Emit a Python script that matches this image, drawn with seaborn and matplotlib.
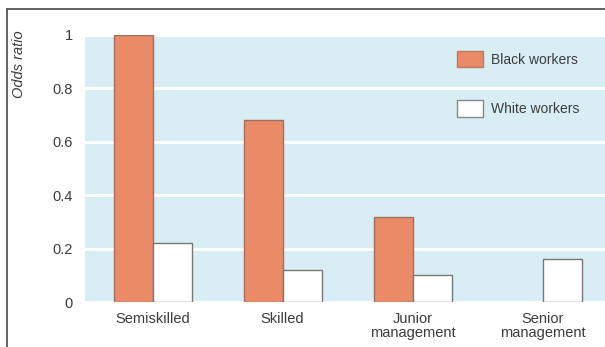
import matplotlib
matplotlib.use("Agg")
import matplotlib.pyplot as plt
from matplotlib.lines import Line2D
from matplotlib.patches import Patch
import numpy as np
import pandas as pd
import seaborn as sns

categories = ["Semiskilled", "Skilled", "Junior\nmanagement", "Senior\nmanagement"]
black_workers = [1.0, 0.68, 0.32, np.nan]
white_workers = [0.22, 0.12, 0.10, 0.16]
series_names = ["Black workers", "White workers"]
y_ticks = [0, 0.2, 0.4, 0.6, 0.8, 1]
y_tick_labels = ["0", "0.2", "0.4", "0.6", "0.8", "1"]

df = pd.DataFrame({
    "category": categories * 2,
    "odds": black_workers + white_workers,
    "group": [series_names[0]] * len(categories) + [series_names[1]] * len(categories),
})

sns.set_style("white")
plt.rcParams["font.family"] = ["Liberation Sans", "DejaVu Sans"]

orange = "#EA8A66"
bg = "#D8EDF4"
text_col = "#3C3C3C"

fig = plt.figure(figsize=(6.05, 3.47), dpi=100)
ax = fig.add_axes([85 / 605, 1 - 302 / 347, 1 - 85 / 605, (302 - 35) / 347])
ax.set_facecolor(bg)

sns.barplot(data=df, x="category", y="odds", hue="group", order=categories,
            hue_order=series_names, palette=[orange, "white"], width=0.6,
            saturation=1, errorbar=None, ax=ax, legend=False, zorder=3)

edge_cols = ["#A0705C", "#777777"]
for cont, ec in zip(ax.containers, edge_cols):
    for bar in cont:
        bar.set_edgecolor(ec)
        bar.set_linewidth(1.0)

ax.set_ylim(0, 1.0)
ax.set_xlim(-0.52, 3.48)
ax.set_yticks(y_ticks)
ax.set_yticklabels(y_tick_labels)
ax.yaxis.grid(True, color="white", linewidth=2.2, zorder=0)
ax.set_axisbelow(True)
for s in ax.spines.values():
    s.set_visible(False)
ax.tick_params(axis="both", length=0, labelsize=10.5, colors=text_col)
ax.tick_params(axis="y", pad=9)
ax.tick_params(axis="x", pad=7)
for lbl in ax.get_xticklabels():
    lbl.set_linespacing(1.0)
ax.set_xlabel("")
ax.set_ylabel("")

handles = [Patch(facecolor=orange, edgecolor="#C07A60", linewidth=1.0),
           Patch(facecolor="white", edgecolor="#888888", linewidth=1.0)]
leg = ax.legend(handles, series_names, loc="upper left",
                bbox_to_anchor=((457 - 85) / 520, 1 - (51 - 35) / 267),
                frameon=False, fontsize=10, handlelength=1.85, handleheight=1.45,
                labelspacing=2.35, handletextpad=0.6, borderpad=0, borderaxespad=0)
for t in leg.get_texts():
    t.set_color(text_col)

fig.text(19 / 605, 1 - 64 / 347, "Odds ratio", rotation=90, ha="center", va="center",
         style="italic", fontsize=10.5, color=text_col)

# frame lines along the top and left edges
fig.add_artist(Line2D([7 / 605, 1], [1 - 9 / 347, 1 - 9 / 347], color="#555555",
                      linewidth=1.3, transform=fig.transFigure))
fig.add_artist(Line2D([7 / 605, 7 / 605], [0, 1 - 9 / 347], color="#555555",
                      linewidth=1.3, transform=fig.transFigure))

fig.savefig("out.png", dpi=100, facecolor="white")
